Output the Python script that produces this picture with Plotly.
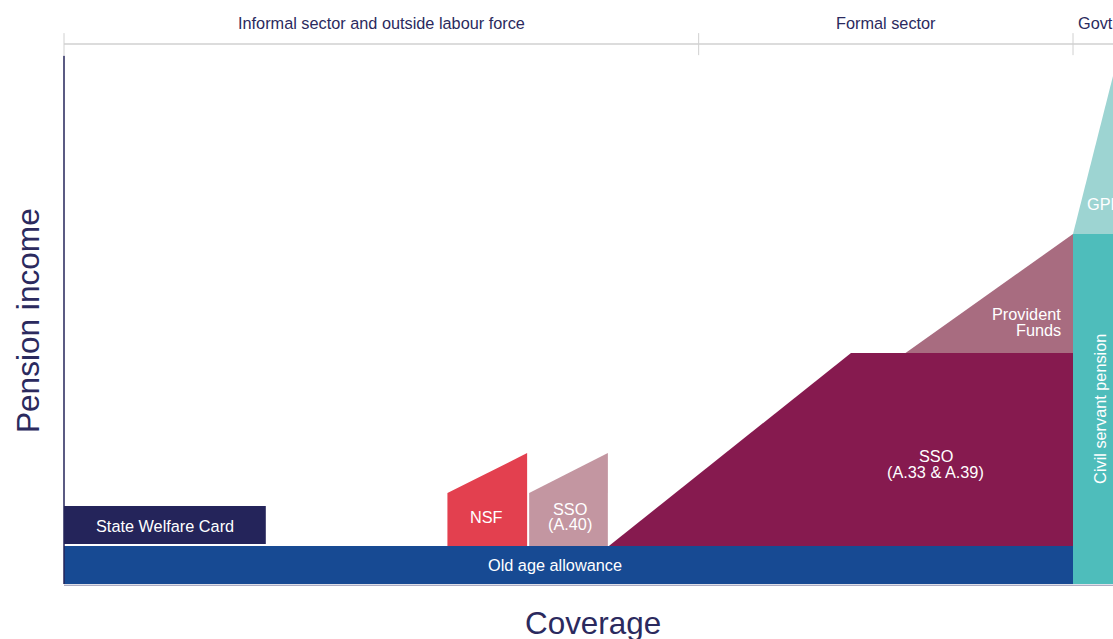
import plotly.graph_objects as go

# Schematic of pension schemes: coverage (x, 0-100) against pension income (y, 0-100)
# Each scheme is a filled polygon given by its outline vertices.
schemes = ["Old age allowance", "State Welfare Card", "NSF", "SSO (A.40)",
           "SSO (A.33 & A.39)", "Provident Funds", "Civil servant pension", "GPF"]

old_age_x = [0, 100, 100, 0]
old_age_y = [0, 0, 10.86, 10.86]

welfare_card_x = [0, 20.0, 20.0, 0]
welfare_card_y = [11.43, 11.43, 22.3, 22.3]

nsf_x = [38.0, 45.9, 45.9, 38.0]
nsf_y = [10.86, 10.86, 37.4, 26.0]

sso40_x = [46.1, 53.9, 53.9, 46.1]
sso40_y = [10.86, 10.86, 37.4, 26.0]

sso33_x = [54.0, 78.0, 100, 100]
sso33_y = [10.86, 66.0, 66.0, 10.86]

provident_x = [83.4, 100, 100]
provident_y = [66.0, 100, 66.0]

civil_x = [100, 110, 110, 100]
civil_y = [0, 0, 100, 100]

gpf_x = [100, 104.3, 110, 110]
gpf_y = [100, 149.0, 149.0, 100]

# Sector brackets along the top (coverage boundaries)
sector_names = ["Informal sector and outside labour force", "Formal sector", "Govt sector"]
sector_bounds = [0, 62.9, 100]

colors = {
    "Old age allowance": "#174a93",
    "State Welfare Card": "#24245a",
    "NSF": "#e3404f",
    "SSO (A.40)": "#c396a1",
    "SSO (A.33 & A.39)": "#861a4f",
    "Provident Funds": "#a86c80",
    "Civil servant pension": "#4ebdbb",
    "GPF": "#9dd4d2",
}

NAVY = "#2b2a5e"
FONT = "Liberation Sans, Arial, sans-serif"
TXT = 16.3

polys = [
    ("SSO (A.33 & A.39)", sso33_x, sso33_y),
    ("Provident Funds", provident_x, provident_y),
    ("Old age allowance", old_age_x, old_age_y),
    ("State Welfare Card", welfare_card_x, welfare_card_y),
    ("NSF", nsf_x, nsf_y),
    ("SSO (A.40)", sso40_x, sso40_y),
    ("GPF", gpf_x, gpf_y),
    ("Civil servant pension", civil_x, civil_y),
]

fig = go.Figure()
for name, xs, ys in polys:
    fig.add_trace(go.Scatter(
        x=xs + [xs[0]], y=ys + [ys[0]], mode="lines", fill="toself",
        fillcolor=colors[name], line=dict(width=0, color=colors[name]),
        name=name, hoverinfo="name", showlegend=False,
    ))

# axis lines
fig.add_shape(type="line", x0=0, x1=0, y0=0, y1=150.9,
              line=dict(color="#24245a", width=1.5))
fig.add_shape(type="line", x0=0, x1=104.5, y0=-0.35, y1=-0.35,
              line=dict(color="#8c8cab", width=1))

# sector bracket
bracket_y = 154.3
fig.add_shape(type="line", x0=0, x1=104.5, y0=bracket_y, y1=bracket_y,
              line=dict(color="#d0d0d0", width=1.5))
for b in sector_bounds:
    fig.add_shape(type="line", x0=b, x1=b, y0=151.1, y1=157.4,
                  line=dict(color="#d0d0d0", width=1))

ann = []


def label(x, y, text, size=TXT, color="white", xanchor="center", angle=0):
    ann.append(dict(x=x, y=y, text=text, showarrow=False, xanchor=xanchor,
                    yanchor="middle", textangle=angle,
                    font=dict(family=FONT, size=size, color=color)))


label((sector_bounds[0] + sector_bounds[1]) / 2, 160.3, sector_names[0], color=NAVY)
label((sector_bounds[1] + sector_bounds[2]) / 2, 160.3, sector_names[1], color=NAVY)
label(100.3, 160.3, sector_names[2], color=NAVY, xanchor="left")

label(10.0, 16.6, "State Welfare Card")
label(48.7, 5.3, "Old age allowance")
label(41.9, 19.1, "NSF")
label(50.1, 21.4, "SSO")
label(50.1, 17.1, "(A.40)")
label(86.4, 36.6, "SSO")
label(86.4, 32.0, "(A.33 & A.39)")
label(99.0, 77.1, "Provident", xanchor="right")
label(99.0, 72.6, "Funds", xanchor="right")
label(102.6, 50.1, "Civil servant pension", angle=-90)
label(101.2, 108.6, "GPF", xanchor="left")

label(-3.57, 75.4, "Pension income", size=31.6, color=NAVY, angle=-90)
label(52.4, -11.3, "Coverage", size=31.4, color=NAVY)

fig.update_layout(
    width=1113, height=639,
    margin=dict(l=0, r=0, t=0, b=0),
    paper_bgcolor="white", plot_bgcolor="white",
    xaxis=dict(range=[-64 / 10.09, 1049 / 10.09], visible=False, fixedrange=True),
    yaxis=dict(range=[-55 / 3.5, 584 / 3.5], visible=False, fixedrange=True),
    annotations=ann,
    showlegend=False,
)

fig.write_html("out.html")
